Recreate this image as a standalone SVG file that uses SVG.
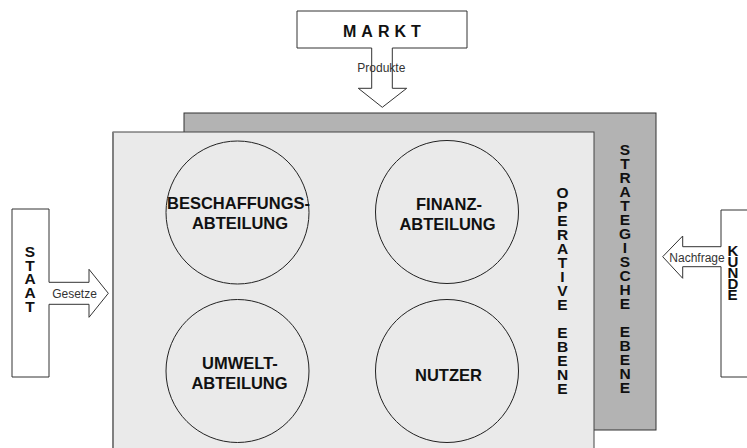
<svg xmlns="http://www.w3.org/2000/svg" width="747" height="448" viewBox="0 0 747 448">
<style>
.box{fill:#ffffff;stroke:#333333;stroke-width:1}
.circ{fill:none;stroke:#222222;stroke-width:1}
.lbl{font-family:"Liberation Sans",Arial,sans-serif;font-weight:bold;font-size:16.5px;fill:#111111;text-anchor:middle}
.vt{font-family:"Liberation Sans",Arial,sans-serif;font-weight:bold;font-size:15.5px;fill:#111111;text-anchor:middle}
.arr{font-family:"Liberation Sans",Arial,sans-serif;font-size:12px;fill:#333333;text-anchor:middle}
</style>
<rect width="747" height="448" fill="#ffffff"/>
<g id="strategische-ebene">
<rect x="184" y="113" width="472" height="317" fill="#b3b3b3" stroke="#333333" stroke-width="1"/>
<text class="vt"><tspan x="625" y="155">S</tspan><tspan x="625" dy="14">T</tspan><tspan x="625" dy="14">R</tspan><tspan x="625" dy="14">A</tspan><tspan x="625" dy="14">T</tspan><tspan x="625" dy="14">E</tspan><tspan x="625" dy="14">G</tspan><tspan x="625" dy="14">I</tspan><tspan x="625" dy="14">S</tspan><tspan x="625" dy="14">C</tspan><tspan x="625" dy="14">H</tspan><tspan x="625" dy="14">E</tspan><tspan x="625" dy="28">E</tspan><tspan x="625" dy="14">B</tspan><tspan x="625" dy="14">E</tspan><tspan x="625" dy="14">N</tspan><tspan x="625" dy="14">E</tspan></text>
</g>
<g id="operative-ebene">
<rect x="113" y="132" width="481" height="330" fill="#eaeaea" stroke="#444444" stroke-width="1"/>
<line x1="113" y1="132" x2="113" y2="448" stroke="#808080" stroke-width="2"/>
<text class="vt"><tspan x="562.5" y="198">O</tspan><tspan x="562.5" dy="14">P</tspan><tspan x="562.5" dy="14">E</tspan><tspan x="562.5" dy="14">R</tspan><tspan x="562.5" dy="14">A</tspan><tspan x="562.5" dy="14">T</tspan><tspan x="562.5" dy="14">I</tspan><tspan x="562.5" dy="14">V</tspan><tspan x="562.5" dy="14">E</tspan><tspan x="562.5" dy="28">E</tspan><tspan x="562.5" dy="14">B</tspan><tspan x="562.5" dy="14">E</tspan><tspan x="562.5" dy="14">N</tspan><tspan x="562.5" dy="14">E</tspan></text>
</g>
<g id="beschaffung">
<circle class="circ" cx="237.5" cy="212.5" r="71.5"/>
<text class="lbl" x="238.5" y="209">BESCHAFFUNGS-</text>
<text class="lbl" x="240" y="229">ABTEILUNG</text>
</g>
<g id="finanz">
<circle class="circ" cx="447" cy="212" r="71.5"/>
<text class="lbl" x="449" y="210">FINANZ-</text>
<text class="lbl" x="447.5" y="229.5">ABTEILUNG</text>
</g>
<g id="umwelt">
<circle class="circ" cx="237.5" cy="371" r="71.5"/>
<text class="lbl" x="240" y="368.5">UMWELT-</text>
<text class="lbl" x="239.5" y="388.5">ABTEILUNG</text>
</g>
<g id="nutzer">
<circle class="circ" cx="447" cy="371" r="71.5"/>
<text class="lbl" x="448.5" y="380.5">NUTZER</text>
</g>
<g id="markt">
<path class="box" d="M297,11 H467 V48 H392.3 V88.3 H406.7 L382.3,107.3 L358.3,88.3 H371.7 V48 H297 Z"/>
<text x="343" y="36.5" font-family="Liberation Sans, Arial, sans-serif" font-weight="bold" font-size="16px" letter-spacing="5" fill="#111111">MARKT</text>
</g>
<g id="staat">
<path class="box" d="M12,209 H49 V282.3 H89 V269.3 L108.3,293.3 L89,317.3 V304.3 H49 V377 H12 Z"/>
<text class="vt" font-size="14px"><tspan x="30" y="257">S</tspan><tspan x="30" dy="13.7">T</tspan><tspan x="30" dy="13.7">A</tspan><tspan x="30" dy="13.7">A</tspan><tspan x="30" dy="13.7">T</tspan></text>
</g>
<g id="kunde">
<path class="box" d="M760,210 H721 V246.7 H682.7 V236 L662.7,256.7 L682.7,278.3 V266.7 H721 V377 H760 Z"/>
<text font-family="Liberation Sans, Arial, sans-serif" font-weight="bold" font-size="15px" fill="#111111"><tspan x="727.5" y="256">K</tspan><tspan x="727.5" dy="11">U</tspan><tspan x="727.5" dy="11">N</tspan><tspan x="727.5" dy="11">D</tspan><tspan x="727.5" dy="11">E</tspan></text>
</g>
<g id="connectors">
<text class="arr" x="381.3" y="71.5">Produkte</text>
<text class="arr" x="74.5" y="298">Gesetze</text>
<text class="arr" x="697" y="261.5">Nachfrage</text>
</g>
</svg>
